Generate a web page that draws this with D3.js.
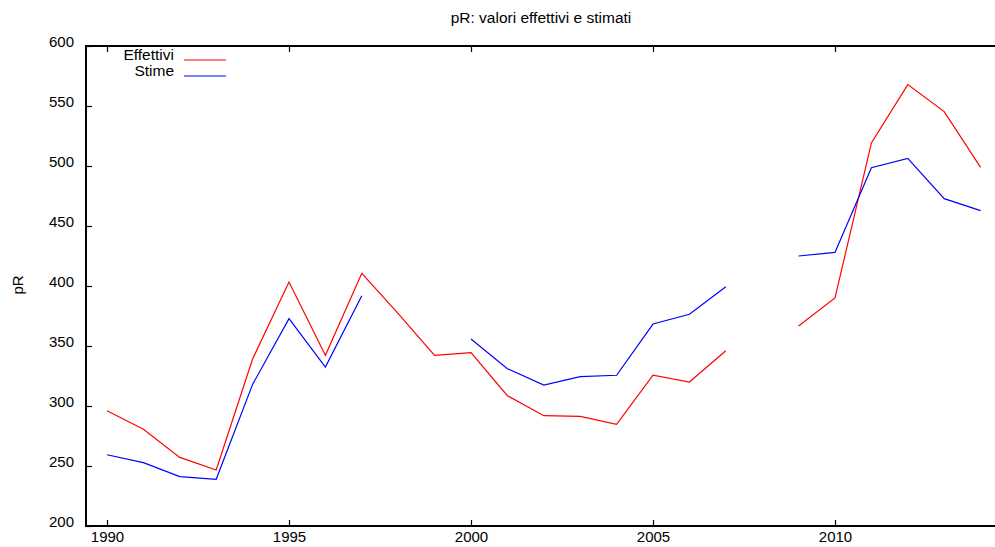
<!DOCTYPE html>
<html><head><meta charset="utf-8">
<script src="https://cdn.jsdelivr.net/npm/d3@7"></script>
<style>body{margin:0;background:#fff}svg{display:block}text{font-family:"Liberation Sans",Arial,Helvetica,sans-serif;fill:#000}</style>
</head><body><svg id="c" width="995" height="547"></svg>
<script>
const years = d3.range(1990, 2015);
const effettivi = [296, 280.6, 257.2, 246.7, 339.2, 403.3, 342.2, 410.6, 377, 342.2, 344.4, 308.6, 291.9, 291.4, 284.7, 325.8, 320, 346.1, null, 366.7, 390, 519.2, 567.8, 545.3, 498.9];
const stime = [259.4, 252.8, 241.1, 238.9, 318, 372.8, 332.5, 391.9, null, null, 355.8, 331.1, 317.5, 324.4, 325.6, 368.3, 376.4, 399.4, null, 425, 428, 498.6, 506.4, 472.8, 462.8];
const seriesNames = ["Effettivi", "Stime"];
const seriesColors = ["#ff0000", "#0000ff"];
const yTicks = [200, 250, 300, 350, 400, 450, 500, 550, 600];
const xTicks = [1990, 1995, 2000, 2005, 2010];
const chartTitle = "pR: valori effettivi e stimati";
const yLabel = "pR";

(function () {
const svg = d3.select("#c");
const pL = 86, pR = 995, pT = 46, pB = 526;
const x = d3.scaleLinear().domain([1990, 2010]).range([107, 835]);
const y = d3.scaleLinear().domain([200, 600]).range([pB, pT]);

// frame
const frame = svg.append("g").attr("stroke", "#000").attr("stroke-width", 2).attr("fill", "none");
frame.append("line").attr("x1", pL).attr("x2", pL).attr("y1", pT - 1).attr("y2", pB + 1);
frame.append("line").attr("x1", pL - 1).attr("x2", pR).attr("y1", pT).attr("y2", pT);
frame.append("line").attr("x1", pL - 1).attr("x2", pR).attr("y1", pB).attr("y2", pB);

// y axis
const yAxis = d3.axisLeft(y).tickValues(yTicks).tickSize(-6).tickPadding(12).tickFormat(d3.format("d"));
const gy = svg.append("g").attr("transform", `translate(${pL},0)`).call(yAxis);
gy.select(".domain").remove();
gy.selectAll(".tick line").attr("stroke", "#000").attr("stroke-width", 1.2);
gy.selectAll("text").attr("font-size", 15).attr("dy", "0.05em");

// x axis bottom
const xAxis = d3.axisBottom(x).tickValues(xTicks).tickSize(-6).tickPadding(16).tickFormat(d3.format("d"));
const gx = svg.append("g").attr("transform", `translate(0,${pB})`).call(xAxis);
gx.select(".domain").remove();
gx.selectAll(".tick line").attr("stroke", "#000").attr("stroke-width", 1.2);
gx.selectAll("text").attr("font-size", 15).attr("dy", "0");

// x axis top mirror ticks
const gxt = svg.append("g").attr("transform", `translate(0,${pT})`).call(d3.axisTop(x).tickValues(xTicks).tickSize(-6).tickFormat(""));
gxt.select(".domain").remove();
gxt.selectAll(".tick line").attr("stroke", "#000").attr("stroke-width", 1.2);
svg.selectAll("g").attr("font-family", null);

// title & y label
svg.append("text").attr("x", 541).attr("y", 23).attr("text-anchor", "middle").attr("font-size", 15.5).text(chartTitle);
svg.append("text").attr("transform", "translate(23,285) rotate(-90)").attr("text-anchor", "middle").attr("font-size", 15).text(yLabel);

// lines
const line = d3.line().defined(d => d[1] != null).x(d => x(d[0])).y(d => y(d[1]));
[effettivi, stime].forEach((vals, i) => {
  svg.append("path").datum(years.map((yr, j) => [yr, vals[j]]))
    .attr("d", line).attr("fill", "none").attr("stroke", seriesColors[i]).attr("stroke-width", 1.2);
});

// legend
seriesNames.forEach((n, i) => {
  const ly = 60 + i * 16;
  svg.append("text").attr("x", 174).attr("y", ly).attr("text-anchor", "end").attr("font-size", 15.5).text(n);
  svg.append("line").attr("x1", 184).attr("x2", 226).attr("y1", ly).attr("y2", ly)
    .attr("stroke", seriesColors[i]).attr("stroke-width", 1.2);
});
})();
</script></body></html>
